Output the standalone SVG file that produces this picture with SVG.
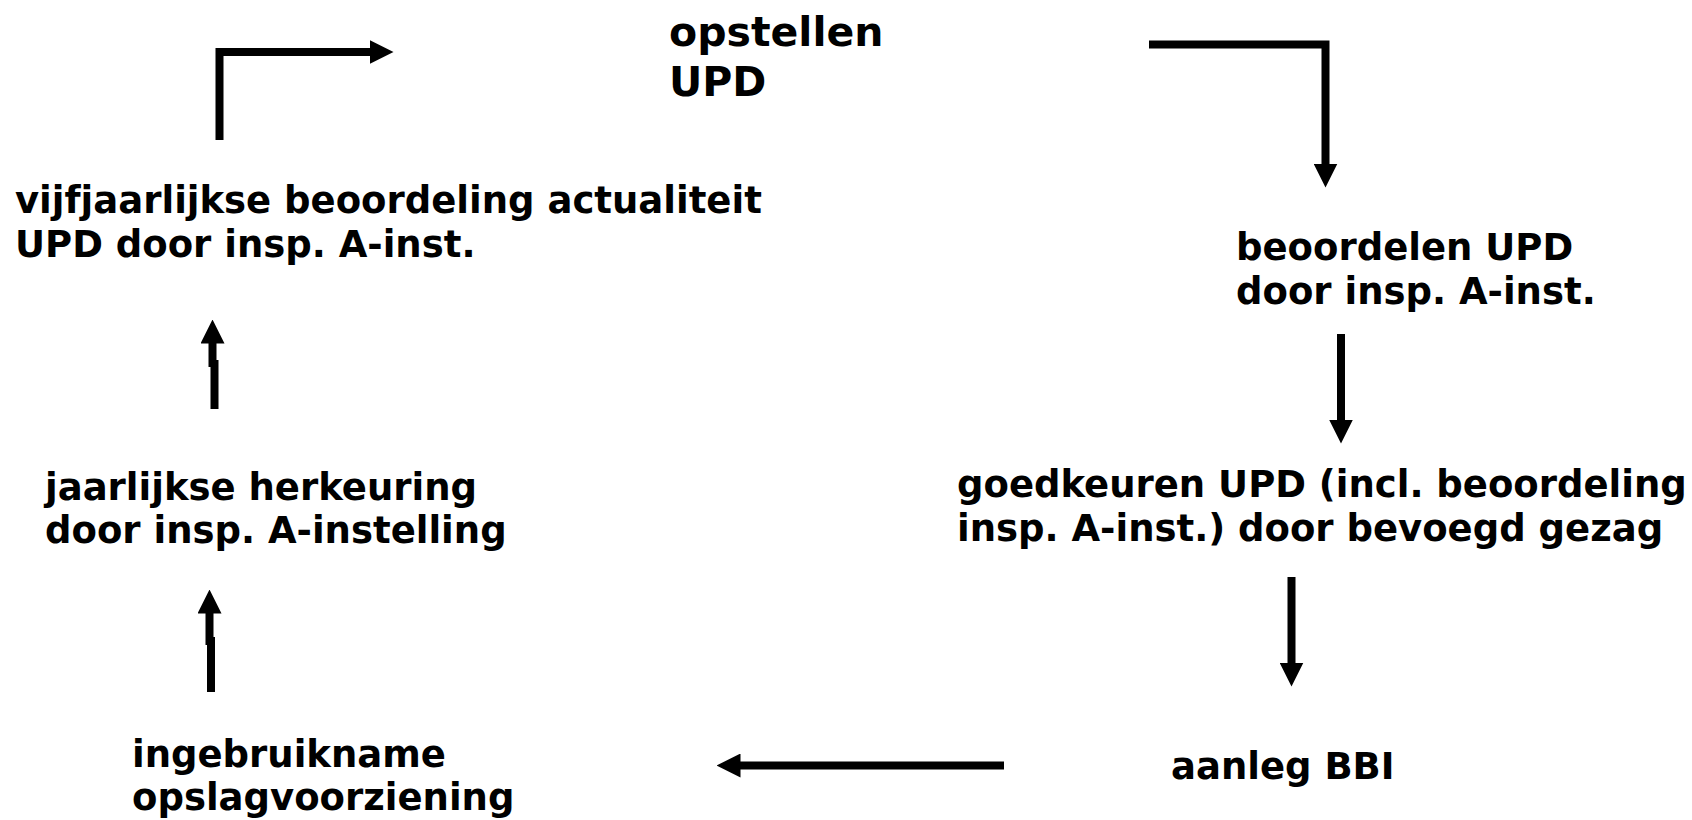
<svg xmlns="http://www.w3.org/2000/svg" width="1692" height="820" viewBox="0 0 1692 820">
<style>
text{font-family:"DejaVu Sans","Verdana",sans-serif;font-weight:bold;fill:#000;font-size:37px}
.big{font-size:41px}
.c{fill:none;stroke:#000;stroke-width:8;stroke-linecap:butt;stroke-linejoin:miter}
</style>
<defs>
<marker id="ah" markerUnits="userSpaceOnUse" markerWidth="24" markerHeight="24" viewBox="0 0 24 24" refX="0.5" refY="12" orient="auto">
<path d="M0,0 L24,12 L0,24 z" fill="#000"/>
</marker>
</defs>
<rect width="1692" height="820" fill="#fff"/>
<g id="n1"><text class="big" x="669" y="46">opstellen</text><text class="big" x="669" y="96">UPD</text></g>
<g id="n2"><text x="1236" y="260">beoordelen UPD</text><text x="1236" y="304">door insp. A-inst.</text></g>
<g id="n3"><text x="957" y="497">goedkeuren UPD (incl. beoordeling</text><text x="957" y="541">insp. A-inst.) door bevoegd gezag</text></g>
<g id="n4"><text x="1171" y="779">aanleg BBI</text></g>
<g id="n5"><text x="132" y="767">ingebruikname</text><text x="132" y="810">opslagvoorziening</text></g>
<g id="n6"><text x="45" y="500">jaarlijkse herkeuring</text><text x="45" y="543">door insp. A-instelling</text></g>
<g id="n7"><text x="15" y="213">vijfjaarlijkse beoordeling actualiteit</text><text x="15" y="257">UPD door insp. A-inst.</text></g>
<g id="connectors">
<path class="c" d="M1149,44.5 L1325.5,44.5 L1325.5,164" marker-end="url(#ah)"/>
<path class="c" d="M1341,334 L1341,420" marker-end="url(#ah)"/>
<path class="c" d="M1291.5,577 L1291.5,663" marker-end="url(#ah)"/>
<path class="c" d="M1004,765.5 L740,765.5" marker-end="url(#ah)"/>
<path class="c" d="M211,692 L211,637"/>
<path class="c" d="M209.5,645 L209.5,613" marker-end="url(#ah)"/>
<path class="c" d="M214.5,409 L214.5,360"/>
<path class="c" d="M212.5,367 L212.5,343" marker-end="url(#ah)"/>
<path class="c" d="M219.5,140 L219.5,52 L370,52" marker-end="url(#ah)"/>
</g>
</svg>
